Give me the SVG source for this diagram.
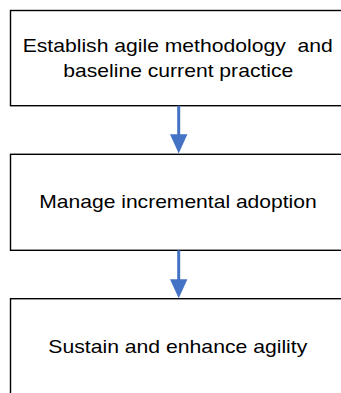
<svg xmlns="http://www.w3.org/2000/svg" width="341" height="393" viewBox="0 0 341 393">
  <style>
    .box { fill: #ffffff; stroke: #000000; stroke-width: 1.4; }
    .label { font-family: "Liberation Sans", Arial, sans-serif; font-size: 18.5px; fill: #000000; text-anchor: middle; }
    .flow { stroke: #4472C4; stroke-width: 3; fill: none; }
    .head { fill: #4472C4; }
  </style>
  <rect x="0" y="0" width="341" height="393" fill="#ffffff"/>

  <g id="step-establish">
    <rect class="box" x="10.5" y="10.5" width="336" height="95.2"/>
    <text class="label" x="177.7" y="51.7" textLength="310" lengthAdjust="spacingAndGlyphs" xml:space="preserve">Establish agile methodology  and</text>
    <text class="label" x="178.3" y="76.7" textLength="230" lengthAdjust="spacingAndGlyphs">baseline current practice</text>
  </g>

  <g id="step-manage">
    <rect class="box" x="10.5" y="154.3" width="336" height="96"/>
    <text class="label" x="178" y="208.3" textLength="277.4" lengthAdjust="spacingAndGlyphs">Manage incremental adoption</text>
  </g>

  <g id="step-sustain">
    <rect class="box" x="10.5" y="298.7" width="336" height="110"/>
    <text class="label" x="177.8" y="353.3" textLength="259" lengthAdjust="spacingAndGlyphs">Sustain and enhance agility</text>
  </g>

  <g id="connectors">
    <line class="flow" x1="178.7" y1="105.7" x2="178.7" y2="135"/>
    <polygon class="head" points="170,134.3 187.4,134.3 178.7,153.6"/>
    <line class="flow" x1="178.7" y1="250.3" x2="178.7" y2="280"/>
    <polygon class="head" points="170,279.3 187.4,279.3 178.7,298.2"/>
  </g>
</svg>
